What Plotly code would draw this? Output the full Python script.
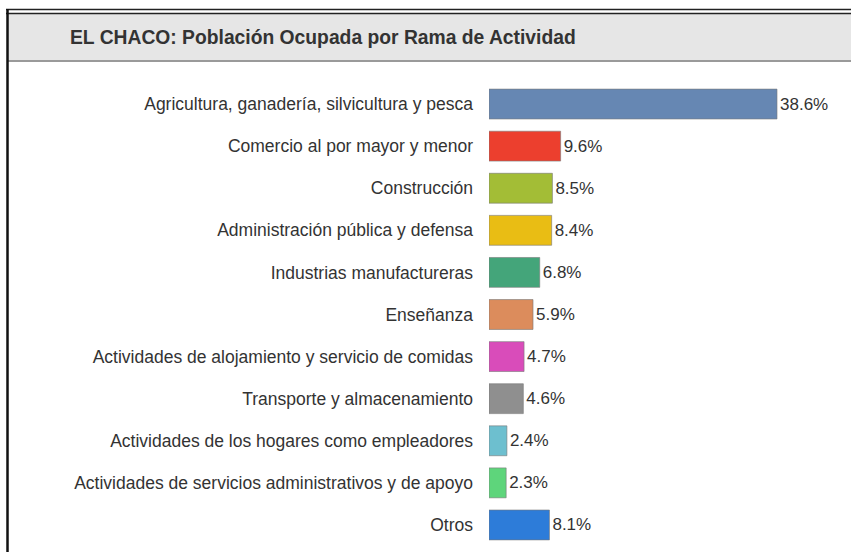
import plotly.graph_objects as go

categories = [
    "Agricultura, ganadería, silvicultura y pesca",
    "Comercio al por mayor y menor",
    "Construcción",
    "Administración pública y defensa",
    "Industrias manufactureras",
    "Enseñanza",
    "Actividades de alojamiento y servicio de comidas",
    "Transporte y almacenamiento",
    "Actividades de los hogares como empleadores",
    "Actividades de servicios administrativos y de apoyo",
    "Otros",
]
values = [38.6, 9.6, 8.5, 8.4, 6.8, 5.9, 4.7, 4.6, 2.4, 2.3, 8.1]
value_labels = ["38.6%", "9.6%", "8.5%", "8.4%", "6.8%", "5.9%", "4.7%", "4.6%", "2.4%", "2.3%", "8.1%"]
bar_colors = ["#6687b3", "#ec3f2e", "#a3bd36", "#e9bd14", "#44a57a", "#dc8c5c",
              "#d94cba", "#8f8f8f", "#6dbfcf", "#5ed57b", "#2d7cd9"]
title = "EL CHACO: Población Ocupada por Rama de Actividad"

W, H = 851, 552
ML, MR, MT, MB = 489, 0, 83, 6
PW, PH = W - ML - MR, H - MT - MB
PX_PER_UNIT = 288 / 38.6

FONT = "Liberation Sans Narrow, Liberation Sans, Arial, sans-serif"

def px(x):
    return (x - ML) / PW

def py(y):
    return (H - MB - y) / PH

fig = go.Figure(go.Bar(
    x=values, y=categories, orientation="h",
    marker=dict(color=bar_colors, line=dict(color="rgba(120,120,120,0.6)", width=1)),
    text=value_labels, textposition="outside", cliponaxis=False,
    textfont=dict(family=FONT, size=17, color="#333333"),
    hoverinfo="skip",
))

shapes = [
    # grey title band
    dict(type="rect", xref="paper", yref="paper", x0=px(8), x1=px(W), y0=py(61), y1=py(14),
         fillcolor="#e6e6e6", line=dict(width=0), layer="below"),
    # band bottom line
    dict(type="line", xref="paper", yref="paper", x0=px(8), x1=px(W), y0=py(61), y1=py(61),
         line=dict(color="#9a9a9a", width=2)),
    # double top lines
    dict(type="line", xref="paper", yref="paper", x0=px(6), x1=px(W), y0=py(9.5), y1=py(9.5),
         line=dict(color="#222222", width=1.5)),
    dict(type="line", xref="paper", yref="paper", x0=px(6), x1=px(W), y0=py(13.5), y1=py(13.5),
         line=dict(color="#222222", width=1.5)),
    # left border
    dict(type="line", xref="paper", yref="paper", x0=px(7.5), x1=px(7.5), y0=py(9), y1=py(H),
         line=dict(color="#111111", width=2.5)),
]

fig.update_layout(
    width=W, height=H,
    margin=dict(l=ML, r=MR, t=MT, b=MB),
    paper_bgcolor="white", plot_bgcolor="white",
    showlegend=False,
    bargap=0.29,
    shapes=shapes,
    annotations=[dict(text="<b>" + title + "</b>", xref="paper", yref="paper",
                      x=px(68), y=py(38), xanchor="left", yanchor="middle", showarrow=False,
                      font=dict(family=FONT, size=19.3, color="#333333"))],
    xaxis=dict(range=[0, PW / PX_PER_UNIT], visible=False, fixedrange=True),
    yaxis=dict(autorange="reversed", showgrid=False, zeroline=False, showline=False,
               ticks="", ticklabelstandoff=15, fixedrange=True,
               tickfont=dict(family=FONT, size=17.5, color="#333333")),
)

fig.write_html("out.html", config={"displayModeBar": False},
               post_script="document.body.style.margin='0';document.body.style.overflow='hidden';")
